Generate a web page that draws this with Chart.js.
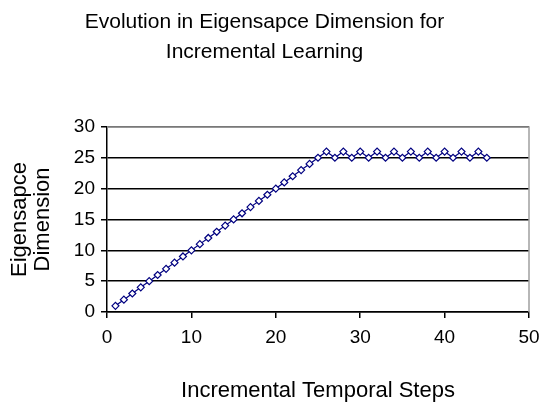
<!DOCTYPE html>
<html>
<head>
<meta charset="utf-8">
<script src="https://cdn.jsdelivr.net/npm/chart.js@4/dist/chart.umd.min.js"></script>
<style>
html,body{margin:0;padding:0;background:#fff;}
#wrap{width:540px;height:408px;}
</style>
</head>
<body>
<div id="wrap"><canvas id="c" width="540" height="408"></canvas></div>
<script>
const steps = [1,2,3,4,5,6,7,8,9,10,11,12,13,14,15,16,17,18,19,20,21,22,23,24,25,26,27,28,29,30,31,32,33,34,35,36,37,38,39,40,41,42,43,44,45];
const dimension = [1,2,3,4,5,6,7,8,9,10,11,12,13,14,15,16,17,18,19,20,21,22,23,24,25,26,25,26,25,26,25,26,25,26,25,26,25,26,25,26,25,26,25,26,25];
const titleLines = ["Evolution in Eigensapce Dimension for", "Incremental Learning"];
const xTitle = "Incremental Temporal Steps";
const yTitle = ["Eigensapce", "Dimension"];

const FONT = "'Liberation Sans',Arial,sans-serif";

const borderPlugin = {
  id: 'plotBorder',
  beforeDatasetsDraw(chart) {
    const a = chart.chartArea, ctx = chart.ctx;
    ctx.save();
    ctx.strokeStyle = '#a0a0a0';
    ctx.lineWidth = 1.5;
    ctx.beginPath();
    ctx.moveTo(a.left, a.top);
    ctx.lineTo(a.right, a.top);
    ctx.lineTo(a.right, a.bottom);
    ctx.stroke();
    ctx.restore();
  }
};

new Chart(document.getElementById('c'), {
  type: 'line',
  data: {
    datasets: [{
      data: steps.map((x, i) => ({x: x, y: dimension[i]})),
      borderColor: '#000080',
      borderWidth: 1.2,
      pointStyle: 'rectRot',
      pointRadius: 3.5,
      pointBorderWidth: 1.2,
      pointBackgroundColor: '#ffffff',
      pointBorderColor: '#000080',
      tension: 0
    }]
  },
  options: {
    responsive: false,
    animation: false,
    layout: { padding: { left: 0, right: 11, top: 0, bottom: 0 } },
    plugins: {
      legend: { display: false },
      tooltip: { enabled: false },
      title: {
        display: true,
        text: titleLines,
        color: '#000',
        font: { family: FONT, size: 21, weight: 'normal', lineHeight: 1.45 },
        padding: { top: 7, bottom: 59 }
      }
    },
    scales: {
      x: {
        type: 'linear',
        min: 0, max: 50,
        ticks: { stepSize: 10, color: '#000', font: { family: FONT, size: 19 }, padding: 8 },
        grid: { drawOnChartArea: false, drawTicks: true, tickLength: 6, color: '#000', lineWidth: 1.5 },
        border: { color: '#000', width: 1.5 },
        title: { display: true, text: xTitle, color: '#000', font: { family: FONT, size: 22 }, padding: { top: 10, bottom: 4 } },
        afterFit(s) { s.height = 96; s.paddingRight = 0; s.paddingLeft = 0; }
      },
      y: {
        min: 0, max: 30,
        ticks: { stepSize: 5, color: '#000', font: { family: FONT, size: 19 }, padding: 6 },
        grid: { color: '#000', lineWidth: 1.5, tickLength: 6 },
        border: { color: '#000', width: 1.5 },
        title: { display: true, text: yTitle, color: '#000', font: { family: FONT, size: 22, lineHeight: 1.05 }, padding: { top: 8, bottom: 4 } },
        afterFit(s) { s.width = 107; }
      }
    }
  },
  plugins: [borderPlugin]
});
</script>
</body>
</html>
